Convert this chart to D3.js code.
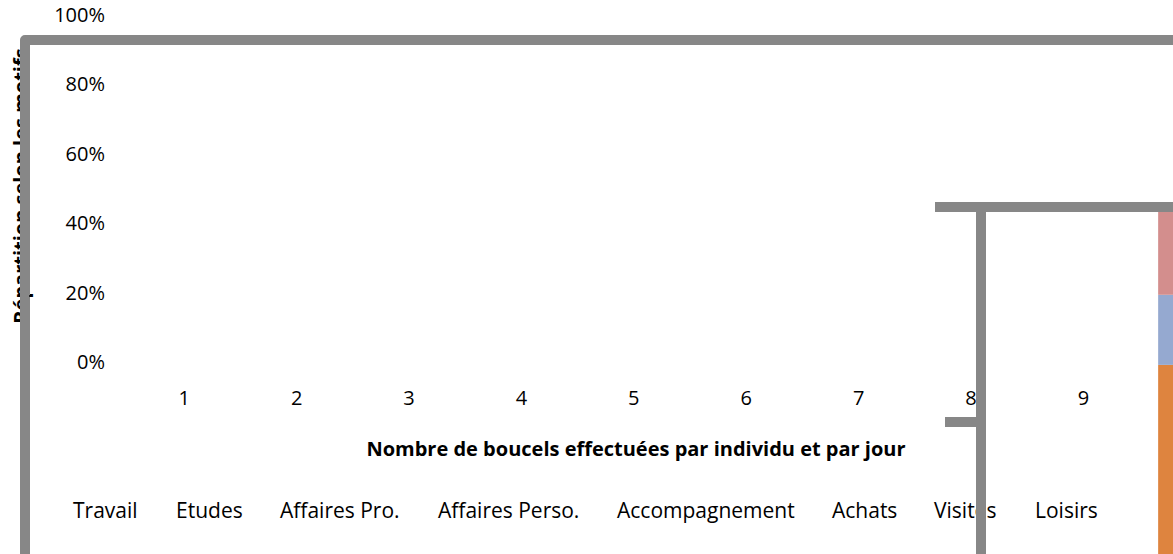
<!DOCTYPE html>
<html>
<head>
<meta charset="utf-8">
<script src="https://cdn.jsdelivr.net/npm/d3@7"></script>
<style>
  body { margin: 0; background: #fff; }
  svg text { font-family: "Open Sans", sans-serif; fill: #000; }
</style>
</head>
<body>
<svg id="chart" width="1173" height="554"></svg>
<script>
// Data
const boucles = ["1", "2", "3", "4", "5", "6", "7", "8", "9", "10"];
const yTicks = [0, 0.2, 0.4, 0.6, 0.8, 1];
const motifs = ["Travail", "Etudes", "Affaires Pro.", "Affaires Perso.", "Accompagnement", "Achats", "Visites", "Loisirs"];
// visible stacked bar (bottom to top)
const barSegments = ["Seg A", "Seg B", "Seg C"];
const barValues = [0.545, 0.202, 0.253];
const barColors = ["#DE843F", "#95A9D0", "#D38E8D"];

const frameColor = "#878787";
const width = 1173, height = 554;

const svg = d3.select("#chart");

const x = d3.scaleBand()
  .domain(boucles)
  .range([128, 1252])
  .paddingInner(0.33)
  .paddingOuter(0.165);

const y = d3.scaleLinear().domain([0, 1]).range([362, 15]);

// inner plot scale for the stacked column
const yInner = d3.scaleLinear().domain([0, 1]).range([554, 207]);

// Y axis title (sits under the frame)
svg.append("text")
  .attr("transform", "translate(28, 186) rotate(-90)")
  .attr("text-anchor", "middle")
  .attr("font-size", "20px")
  .attr("font-weight", 700)
  .text("Répartition selon les motifs");

// Y tick labels
svg.append("g").selectAll("text")
  .data(yTicks)
  .enter()
  .append("text")
  .attr("x", 105)
  .attr("y", (d) => y(d))
  .attr("dy", "0.35em")
  .attr("text-anchor", "end")
  .attr("font-size", "20px")
  .text((d) => d3.format(".0%")(d));

// X tick labels (10 falls outside the picture)
svg.append("g").selectAll("text")
  .data(boucles.slice(0, 9))
  .enter()
  .append("text")
  .attr("x", (d) => x(d) + x.bandwidth() / 2)
  .attr("y", 398)
  .attr("dy", "0.35em")
  .attr("text-anchor", "middle")
  .attr("font-size", "20px")
  .text((d) => d);

// X axis title
svg.append("text")
  .attr("x", 636)
  .attr("y", 449)
  .attr("dy", "0.35em")
  .attr("text-anchor", "middle")
  .attr("font-size", "20px")
  .attr("font-weight", 700)
  .text("Nombre de boucels effectuées par individu et par jour");

// Legend (labels only)
const legendX = [73, 176, 280, 438, 617, 832, 934, 1035];
svg.append("g").selectAll("text")
  .data(motifs)
  .enter()
  .append("text")
  .attr("x", (d, i) => legendX[i])
  .attr("y", 518)
  .attr("font-size", "21px")
  .text((d) => d);

// Stacked column
const stacked = d3.cumsum(barValues);
svg.append("g").selectAll("rect")
  .data(barValues)
  .enter()
  .append("rect")
  .attr("x", x("10"))
  .attr("width", x.bandwidth())
  .attr("y", (d, i) => yInner(stacked[i]))
  .attr("height", (d) => yInner(0) - yInner(d))
  .attr("fill", (d, i) => barColors[i]);

// Frames
const frame = svg.append("g")
  .attr("fill", "none")
  .attr("stroke", frameColor)
  .attr("stroke-width", 10);

frame.append("path")
  .attr("stroke-linejoin", "round")
  .attr("d", `M25,${height}V40H${width}`);

frame.append("path")
  .attr("d", `M935,207H${width}M981,207V${height}M945,422H981`);

svg.append("circle").attr("cx", 30).attr("cy", 296).attr("r", 1).attr("fill", "#000");
</script>
</body>
</html>
